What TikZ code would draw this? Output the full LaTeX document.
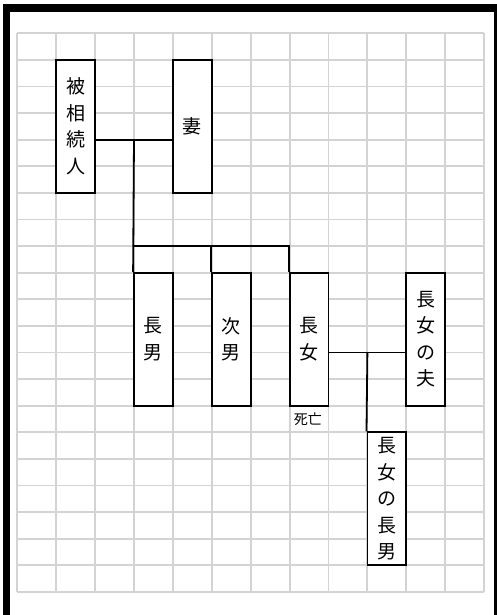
\documentclass[tikz,border=0pt]{standalone}
\usepackage{fontspec}
\newfontfamily\jp{Noto Sans CJK JP}
\definecolor{gridgray}{RGB}{211,211,211}

\begin{document}
\begin{tikzpicture}[x=38.9pt, y=-26.6pt, line width=1.8pt,
  person/.style={rectangle,draw,minimum width=38.9pt,minimum height=133pt,inner sep=0pt,
    align=center,font=\jp\fontsize{19}{26.6}\selectfont},
  note/.style={font=\jp\fontsize{14}{16}\selectfont,inner sep=0pt}]
  \useasboundingbox (-17.3pt,33.3pt) rectangle (479.7pt,-581.7pt);
  % frame
  \fill (-14.6pt,29pt) rectangle (477.7pt,21.3pt);
  \fill (-14.6pt,29pt) rectangle (-7.3pt,-581.7pt);
  \fill (477pt,29pt) rectangle (479.4pt,-581.7pt);
  % grid
  \foreach \i in {0,...,12} \draw[gridgray, line width=1.9pt] (\i,0) -- (\i,21);
  \foreach \j in {0,...,21} \draw[gridgray, line width=1.9pt] (0,\j) -- (12,\j);
  \node[person, fill=white] (hi) at (1.5, 3.5) {被\\相\\続\\人};
  \node[person, fill=white] (tsuma) at (4.5, 3.5) {妻};
  \node[person, fill=white] (chonan) at (3.5, 11.5) {長\\男};
  \node[person, fill=white] (jinan) at (5.5, 11.5) {次\\男};
  \node[person, fill=white] (chojo) at (7.5, 11.5) {長\\女};
  \node[person, fill=white] (otto) at (10.5, 11.5) {長\\女\\の\\夫};
  \node[person, fill=white] (mago) at (9.5, 17.5) {長\\女\\の\\長\\男};
  \node[note] (shibo) at (7.47, 14.5) {死亡};
  \coordinate (m1) at (3, 4);
  \coordinate (m2) at (3, 8);
  \coordinate (m3) at (9, 12);
  \draw (hi.east |- m1) -- (tsuma.west |- m1);
  \draw (m1) -- (chonan.north west);
  \draw (m2) -| (chojo.north west);
  \draw (jinan.north west) -- (jinan.north west |- m2);
  \draw (chojo.east |- m3) -- (otto.west |- m3);
  \draw (m3) -- (mago.north west);
\end{tikzpicture}
\end{document}
